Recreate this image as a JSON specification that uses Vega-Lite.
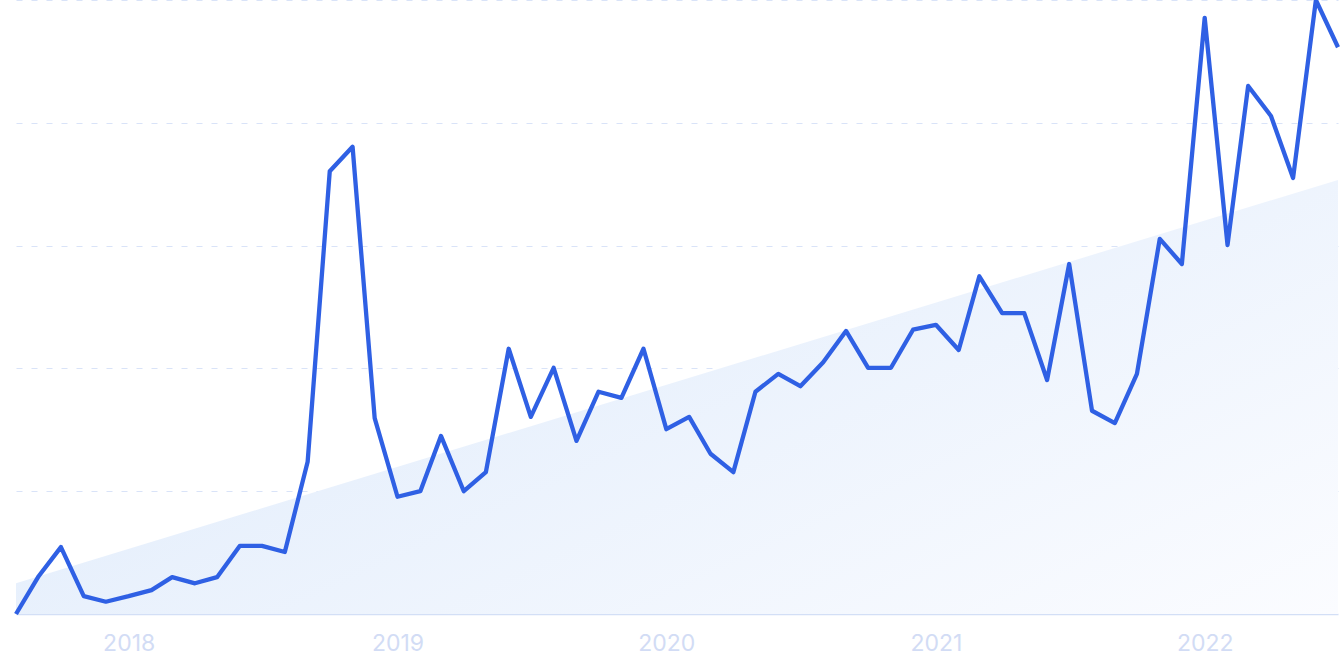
{
  "$schema": "https://vega.github.io/schema/vega-lite/v6.json",
  "autosize": "none",
  "width": 1322,
  "height": 614,
  "padding": {"left": 16, "top": 0, "right": 5, "bottom": 57},
  "background": "#ffffff",
  "config": {"view": {"stroke": null}, "font": "Inter"},
  "datasets": {
    "series": [
      {"date": "2017-08-01", "value": 0},
      {"date": "2017-09-01", "value": 6.2},
      {"date": "2017-10-01", "value": 10.9},
      {"date": "2017-11-01", "value": 2.9},
      {"date": "2017-12-01", "value": 2.0},
      {"date": "2018-01-01", "value": 2.9},
      {"date": "2018-02-01", "value": 3.9},
      {"date": "2018-03-01", "value": 6.0},
      {"date": "2018-04-01", "value": 5.0},
      {"date": "2018-05-01", "value": 6.0},
      {"date": "2018-06-01", "value": 11.1},
      {"date": "2018-07-01", "value": 11.1},
      {"date": "2018-08-01", "value": 10.1},
      {"date": "2018-09-01", "value": 24.8},
      {"date": "2018-10-01", "value": 72.1},
      {"date": "2018-11-01", "value": 76.1},
      {"date": "2018-12-01", "value": 31.9},
      {"date": "2019-01-01", "value": 19.1},
      {"date": "2019-02-01", "value": 20.0},
      {"date": "2019-03-01", "value": 29.0},
      {"date": "2019-04-01", "value": 20.0},
      {"date": "2019-05-01", "value": 23.1},
      {"date": "2019-06-01", "value": 43.2},
      {"date": "2019-07-01", "value": 32.1},
      {"date": "2019-08-01", "value": 40.1},
      {"date": "2019-09-01", "value": 28.2},
      {"date": "2019-10-01", "value": 36.2},
      {"date": "2019-11-01", "value": 35.2},
      {"date": "2019-12-01", "value": 43.2},
      {"date": "2020-01-01", "value": 30.1},
      {"date": "2020-02-01", "value": 32.1},
      {"date": "2020-03-01", "value": 26.1},
      {"date": "2020-04-01", "value": 23.1},
      {"date": "2020-05-01", "value": 36.2},
      {"date": "2020-06-01", "value": 39.1},
      {"date": "2020-07-01", "value": 37.1},
      {"date": "2020-08-01", "value": 41.0},
      {"date": "2020-09-01", "value": 46.1},
      {"date": "2020-10-01", "value": 40.1},
      {"date": "2020-11-01", "value": 40.1},
      {"date": "2020-12-01", "value": 46.3},
      {"date": "2021-01-01", "value": 47.1},
      {"date": "2021-02-01", "value": 43.0},
      {"date": "2021-03-01", "value": 55.0},
      {"date": "2021-04-01", "value": 49.0},
      {"date": "2021-05-01", "value": 49.0},
      {"date": "2021-06-01", "value": 38.1},
      {"date": "2021-07-01", "value": 57.0},
      {"date": "2021-08-01", "value": 33.1},
      {"date": "2021-09-01", "value": 31.1},
      {"date": "2021-10-01", "value": 39.1},
      {"date": "2021-11-01", "value": 61.1},
      {"date": "2021-12-01", "value": 57.0},
      {"date": "2022-01-01", "value": 97.1},
      {"date": "2022-02-01", "value": 60.1},
      {"date": "2022-03-01", "value": 86.0},
      {"date": "2022-04-01", "value": 81.1},
      {"date": "2022-05-01", "value": 71.0},
      {"date": "2022-06-01", "value": 100},
      {"date": "2022-07-01", "value": 92.3}
    ],
    "trend": [
      {"date": "2017-08-01", "value": 5.0},
      {"date": "2022-07-01", "value": 70.7}
    ]
  },
  "encoding": {
    "x": {
      "field": "date",
      "type": "temporal",
      "scale": {"type": "utc", "domain": [{"year": 2017, "month": 8, "date": 1, "utc": true}, {"year": 2022, "month": 7, "date": 1, "utc": true}], "nice": false},
      "axis": {
        "title": null,
        "format": "%Y",
        "tickCount": {"interval": "year", "step": 1},
        "grid": false,
        "ticks": false,
        "domain": true,
        "domainColor": "#d3dff6",
        "domainWidth": 1.5,
        "labelColor": "#d2dcf5",
        "labelFontSize": 23,
        "labelPadding": 18,
        "labelFont": "Inter",
        "labelFlush": false
      }
    },
    "y": {
      "field": "value",
      "type": "quantitative",
      "scale": {"domain": [0, 100], "nice": false, "zero": true},
      "axis": {
        "title": null,
        "labels": false,
        "ticks": false,
        "domain": false,
        "values": [20, 40, 60, 80, 100],
        "grid": true,
        "gridColor": "#d9e3f8",
        "gridDash": [6, 9],
        "gridWidth": 1.2
      }
    }
  },
  "layer": [
    {
      "data": {"name": "trend"},
      "mark": {
        "type": "area",
        "clip": true,
        "color": {
          "gradient": "linear",
          "x1": 0, "y1": 0.3, "x2": 1, "y2": 1,
          "stops": [
            {"offset": 0, "color": "#dfebfb"},
            {"offset": 1, "color": "#fbfcff"}
          ]
        }
      },
      "encoding": {}
    },
    {
      "data": {"name": "series"},
      "mark": {"type": "line", "color": "#2f60e4", "strokeWidth": 4.3, "strokeJoin": "round", "strokeCap": "butt"},
      "encoding": {}
    }
  ]
}
